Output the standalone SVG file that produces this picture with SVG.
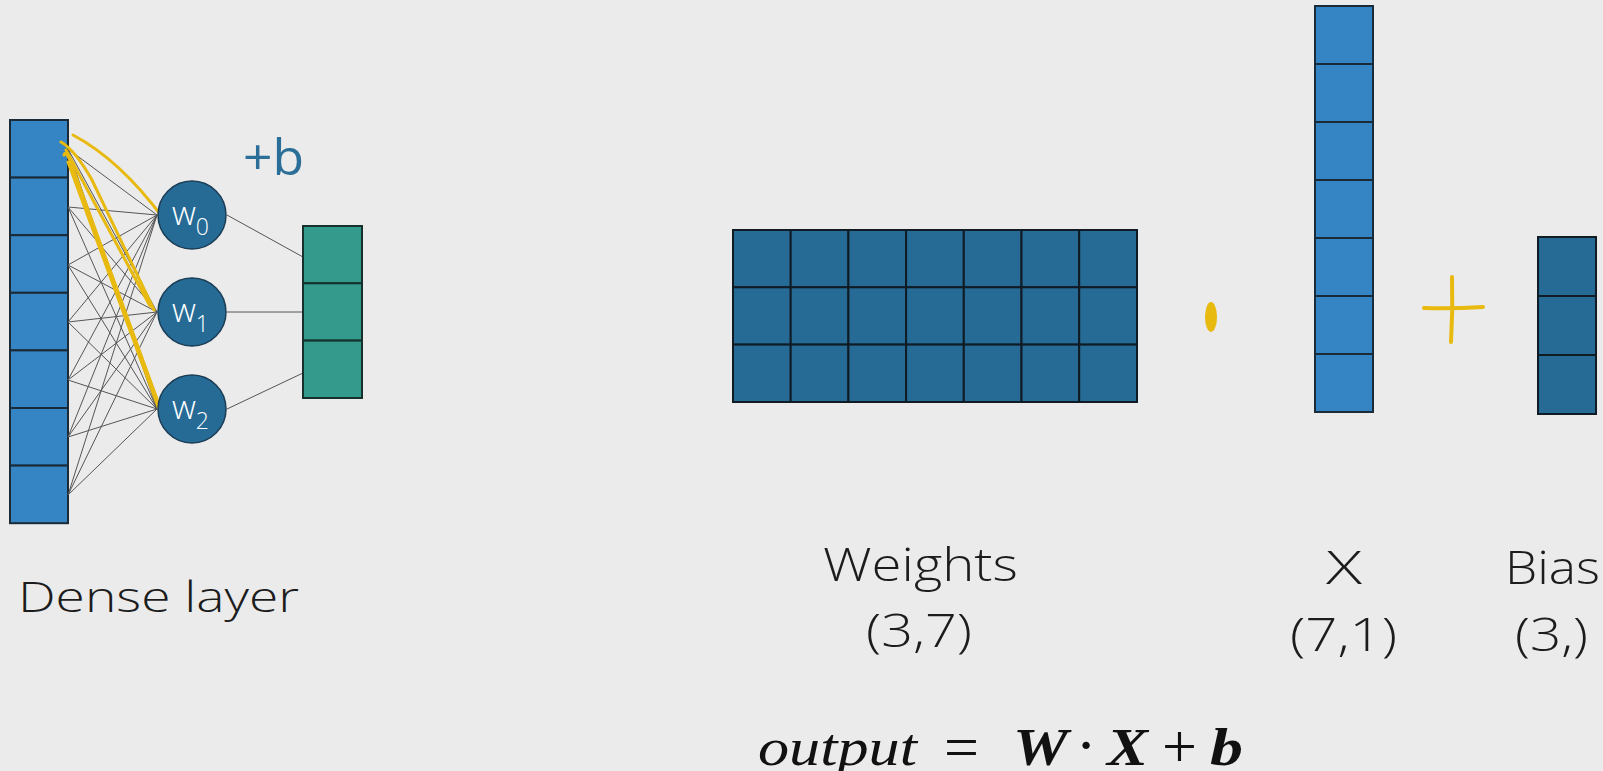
<svg xmlns="http://www.w3.org/2000/svg" width="1603" height="771" viewBox="0 0 1603 771">
<style>
.bg{fill:#ebebeb}
.in{fill:#3584c4;stroke:#1a2a36;stroke-width:2}
.wt{fill:#256b96;stroke:#111b24;stroke-width:2}
.gr{fill:#349a8c;stroke:#16302c;stroke-width:2}
.node{fill:#256b96;stroke:#1b3d55;stroke-width:1.5}
.edge{stroke:#555;stroke-width:1;fill:none}
.hl{stroke:#e8b90f;stroke-width:3;fill:none;stroke-linecap:round}
.lbl{font-family:"Open Sans","Noto Sans",sans-serif;font-weight:300;fill:#1c1c1c}
.wtxt{font-family:"Open Sans","Noto Sans",sans-serif;font-weight:300;fill:#ffffff;font-size:33px}
.math{font-family:"Liberation Serif","DejaVu Serif",serif;font-style:italic;fill:#111;font-size:52px}
.op{font-family:"Liberation Serif","DejaVu Serif",serif;fill:#111;font-size:62px}
</style>
<rect class="bg" x="0" y="0" width="1603" height="771"/>

<g id="input-vector">
<rect class="in" x="10" y="120" width="58" height="57.6"/>
<rect class="in" x="10" y="177.6" width="58" height="57.6"/>
<rect class="in" x="10" y="235.2" width="58" height="57.6"/>
<rect class="in" x="10" y="292.8" width="58" height="57.6"/>
<rect class="in" x="10" y="350.4" width="58" height="57.6"/>
<rect class="in" x="10" y="408" width="58" height="57.6"/>
<rect class="in" x="10" y="465.6" width="58" height="57.6"/>
</g>

<g id="connectors">
<path class="edge" d="M68 149 L157 215 M68 207 L157 215 M68 265 L157 215 M68 322 L157 215 M68 380 L157 215 M68 437 L157 215 M68 495 L157 215"/>
<path class="edge" d="M68 149 L157 312 M68 207 L157 312 M68 265 L157 312 M68 322 L157 312 M68 380 L157 312 M68 437 L157 312 M68 495 L157 312"/>
<path class="edge" d="M68 149 L157 409 M68 207 L157 409 M68 265 L157 409 M68 322 L157 409 M68 380 L157 409 M68 437 L157 409 M68 495 L157 409"/>
<path class="edge" d="M227 215 L303 257 M227 312 L303 312 M227 409 L303 373"/>
</g>

<g id="highlight">
<path class="hl" d="M73 135 Q120 160 163 218"/>
<path class="hl" d="M61 142 Q75 150 92 180 L154 310"/>
<path class="hl" d="M66 150 L150 306"/>
<path class="hl" d="M64 155 Q65 150 70 160 L165 421"/>
<path class="hl" d="M68 162 L160 412"/>
</g>

<g id="node-w0">
<circle class="node" cx="192" cy="215" r="34"/>
<text class="wtxt" x="172" y="225">w<tspan font-size="23" dy="10">0</tspan></text>
</g>
<g id="node-w1">
<circle class="node" cx="192" cy="312" r="34"/>
<text class="wtxt" x="172" y="322">w<tspan font-size="23" dy="10">1</tspan></text>
</g>
<g id="node-w2">
<circle class="node" cx="192" cy="409" r="34"/>
<text class="wtxt" x="172" y="419">w<tspan font-size="23" dy="10">2</tspan></text>
</g>

<g id="output-vector">
<rect class="gr" x="303" y="226" width="59" height="57.3"/>
<rect class="gr" x="303" y="283.3" width="59" height="57.3"/>
<rect class="gr" x="303" y="340.6" width="59" height="57.4"/>
</g>

<g id="bias-label">
<text x="243" y="175" font-family="Open Sans, Noto Sans, sans-serif" font-size="49" fill="#2b6f98" textLength="61" lengthAdjust="spacingAndGlyphs">+b</text>
</g>

<g id="dense-label">
<text class="lbl" x="18" y="612" font-size="43" textLength="281" lengthAdjust="spacingAndGlyphs">Dense layer</text>
</g>

<g id="weights-matrix">
<rect class="wt" x="733" y="230" width="57.7" height="57.3"/>
<rect class="wt" x="790.7" y="230" width="57.7" height="57.3"/>
<rect class="wt" x="848.4" y="230" width="57.7" height="57.3"/>
<rect class="wt" x="906.1" y="230" width="57.7" height="57.3"/>
<rect class="wt" x="963.8" y="230" width="57.7" height="57.3"/>
<rect class="wt" x="1021.5" y="230" width="57.7" height="57.3"/>
<rect class="wt" x="1079.2" y="230" width="57.8" height="57.3"/>
<rect class="wt" x="733" y="287.3" width="57.7" height="57.3"/>
<rect class="wt" x="790.7" y="287.3" width="57.7" height="57.3"/>
<rect class="wt" x="848.4" y="287.3" width="57.7" height="57.3"/>
<rect class="wt" x="906.1" y="287.3" width="57.7" height="57.3"/>
<rect class="wt" x="963.8" y="287.3" width="57.7" height="57.3"/>
<rect class="wt" x="1021.5" y="287.3" width="57.7" height="57.3"/>
<rect class="wt" x="1079.2" y="287.3" width="57.8" height="57.3"/>
<rect class="wt" x="733" y="344.6" width="57.7" height="57.4"/>
<rect class="wt" x="790.7" y="344.6" width="57.7" height="57.4"/>
<rect class="wt" x="848.4" y="344.6" width="57.7" height="57.4"/>
<rect class="wt" x="906.1" y="344.6" width="57.7" height="57.4"/>
<rect class="wt" x="963.8" y="344.6" width="57.7" height="57.4"/>
<rect class="wt" x="1021.5" y="344.6" width="57.7" height="57.4"/>
<rect class="wt" x="1079.2" y="344.6" width="57.8" height="57.4"/>
<text class="lbl" x="823" y="581" font-size="46" textLength="195" lengthAdjust="spacingAndGlyphs">Weights</text>
<text class="lbl" x="866" y="647" font-size="46" textLength="106" lengthAdjust="spacingAndGlyphs">(3,7)</text>
</g>

<g id="dot-op">
<ellipse cx="1211" cy="317" rx="6" ry="15" fill="#e8b90f"/>
</g>

<g id="x-vector">
<rect class="in" x="1315" y="6" width="58" height="58"/>
<rect class="in" x="1315" y="64" width="58" height="58"/>
<rect class="in" x="1315" y="122" width="58" height="58"/>
<rect class="in" x="1315" y="180" width="58" height="58"/>
<rect class="in" x="1315" y="238" width="58" height="58"/>
<rect class="in" x="1315" y="296" width="58" height="58"/>
<rect class="in" x="1315" y="354" width="58" height="58"/>
<text class="lbl" x="1326" y="584" font-size="46" textLength="36" lengthAdjust="spacingAndGlyphs">X</text>
<text class="lbl" x="1290" y="651" font-size="46" textLength="107" lengthAdjust="spacingAndGlyphs">(7,1)</text>
</g>

<g id="plus-op">
<path d="M1424 308 Q1452 309 1483 307 M1452 277 Q1453 310 1451 342" stroke="#e8b90f" stroke-width="4" fill="none" stroke-linecap="round"/>
</g>

<g id="bias-vector">
<rect class="wt" x="1538" y="237" width="58" height="59"/>
<rect class="wt" x="1538" y="296" width="58" height="59"/>
<rect class="wt" x="1538" y="355" width="58" height="59"/>
<text class="lbl" x="1505" y="584" font-size="46" textLength="95" lengthAdjust="spacingAndGlyphs">Bias</text>
<text class="lbl" x="1515" y="651" font-size="46" textLength="73" lengthAdjust="spacingAndGlyphs">(3,)</text>
</g>

<g id="formula">
<text class="math" x="758" y="765" textLength="159" lengthAdjust="spacingAndGlyphs">output</text>
<text class="op" x="944" y="768">=</text>
<text class="math" x="1013" y="765" font-weight="bold" textLength="55" lengthAdjust="spacingAndGlyphs">W</text>
<text class="op" x="1086" y="766" text-anchor="middle">·</text>
<text class="math" x="1107" y="765" font-weight="bold" textLength="41" lengthAdjust="spacingAndGlyphs">X</text>
<text class="op" x="1162" y="767">+</text>
<text class="math" x="1210" y="765" font-weight="bold" textLength="33" lengthAdjust="spacingAndGlyphs">b</text>
</g>
</svg>
